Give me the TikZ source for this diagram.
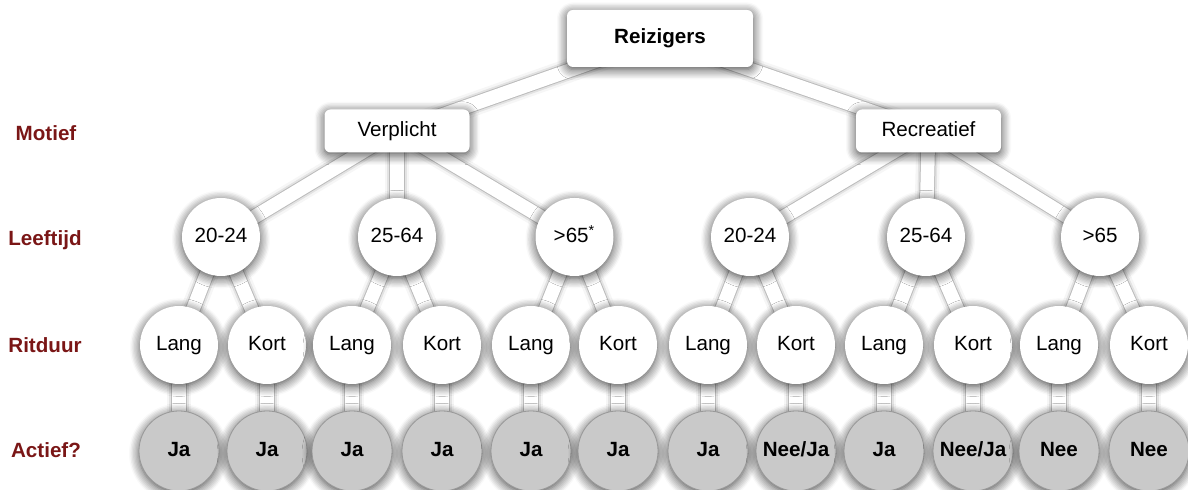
\documentclass[tikz,border=0pt]{standalone}
\usepackage{fontspec}
\setmainfont{Liberation Sans}
\usetikzlibrary{shadows.blur}

\definecolor{rowred}{RGB}{122,22,22}
\definecolor{leafgray}{RGB}{201,201,201}

% two layers under the nodes: soft band edges first, white bands on top
\pgfdeclarelayer{shade}
\pgfdeclarelayer{band}
\pgfsetlayers{shade,band,main}

\tikzset{
  soft shadow/.style={blur shadow={shadow xshift=0pt, shadow yshift=-1.2pt,
      shadow blur radius=5pt, shadow blur steps=8, shadow opacity=75}},
  even text/.style={text height=7.6pt, text depth=2.2pt},
  rowlabel/.style={text=rowred, font=\fontsize{10.3}{12}\selectfont\bfseries},
  rootbox/.style={rounded corners=3pt, fill=white, soft shadow, even text,
      minimum width=93pt, minimum height=28.5pt, font=\fontsize{10.3}{12}\selectfont\bfseries},
  midbox/.style={rounded corners=3pt, fill=white, soft shadow, even text,
      minimum width=72.5pt, minimum height=21.5pt},
  dot/.style={circle, fill=white, soft shadow, even text, inner sep=0pt, minimum size=39pt},
  leafdot/.style={circle, fill=leafgray, draw=gray!80, line width=0.4pt, soft shadow, even text,
      inner sep=0pt, minimum size=40pt, font=\fontsize{10.3}{12}\selectfont\bfseries},
  bandedge/.style={draw=gray, line width=7.8pt, opacity=.4,
      preaction={draw=gray, line width=9.6pt, opacity=.16},
      preaction={draw=gray, line width=12pt, opacity=.07}},
  band/.style={draw=white, line width=6.8pt},
}

% one connector between two named nodes
\newcommand\treelink[2]{%
  \begin{pgfonlayer}{shade}\path[bandedge] (#1.center) -- (#2.center);\end{pgfonlayer}
  \begin{pgfonlayer}{band}\path[band] (#1.center) -- (#2.center);\end{pgfonlayer}
}

\begin{document}
\begin{tikzpicture}[x=0.5pt, y=-0.5pt, font=\fontsize{10.3}{12}\selectfont]
    \useasboundingbox (0,0) rectangle (1188,490);

    % Row labels on the left
    \node[rowlabel] (rowmotief) at (46,133) {Motief};
    \node[rowlabel] (rowleeftijd) at (45,240) {Leeftijd};
    \node[rowlabel] (rowritduur) at (45,345) {Ritduur};
    \node[rowlabel] (rowactief) at (46,450) {Actief?};

    % Root and motive
    \node[rootbox] (reiz) at (660,38.5) {Reizigers};
    \node[midbox] (verp) at (397,131) {Verplicht};
    \node[midbox] (recr) at (928.5,131) {Recreatief};

    % Age groups
    \foreach \i/\x/\t in {1/221/20-24, 2/397/25-64, 3/574.5/{>65\textsuperscript{*}},
                          4/750/20-24, 5/926/25-64, 6/1100/>65}
        \node[dot] (age\i) at (\x,237) {\t};

    % Trip length and outcome
    \foreach \i/\x/\t/\r in {1/179/Lang/Ja, 2/267/Kort/Ja, 3/352/Lang/Ja, 4/442/Kort/Ja,
                             5/531/Lang/Ja, 6/618/Kort/Ja, 7/708/Lang/Ja, 8/796/Kort/Nee\slash Ja,
                             9/884/Lang/Ja, 10/973/Kort/Nee\slash Ja, 11/1059/Lang/Nee, 12/1149/Kort/Nee} {
        \node[dot] (dur\i) at (\x,345) {\t};
        \node[leafdot] (act\i) at (\x,451) {\r};
    }

    % Connectors
    \treelink{reiz}{verp}
    \treelink{reiz}{recr}
    \foreach \i in {1,2,3} {\treelink{verp}{age\i}}
    \foreach \i in {4,5,6} {\treelink{recr}{age\i}}
    \foreach \i in {1,...,6} {
        \pgfmathtruncatemacro\lang{2*\i-1}
        \pgfmathtruncatemacro\kort{2*\i}
        \treelink{age\i}{dur\lang}
        \treelink{age\i}{dur\kort}
    }
    \foreach \i in {1,...,12} {\treelink{dur\i}{act\i}}
\end{tikzpicture}
\end{document}
